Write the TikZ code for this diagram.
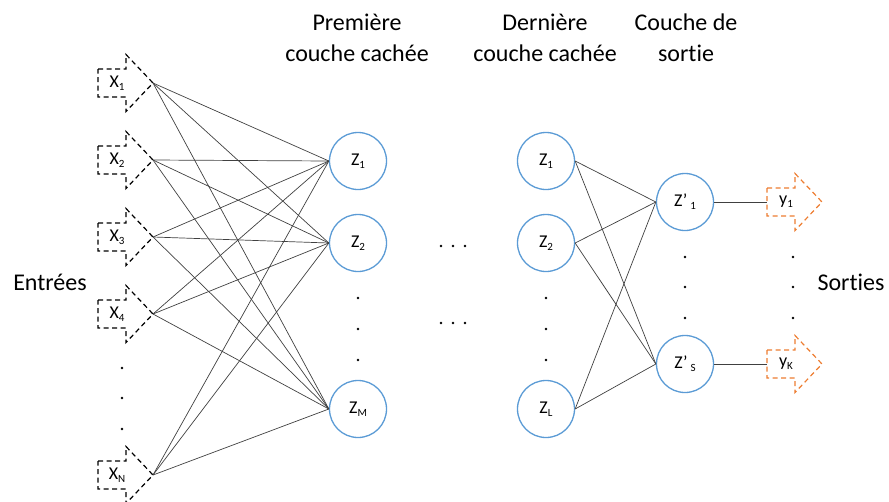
\documentclass[tikz,border=0pt]{standalone}
\usepackage{fontspec}
\setmainfont[RawFeature={-liga}]{Carlito}
\definecolor{nnblue}{HTML}{5B9BD5}
\definecolor{nnorange}{HTML}{ED7D31}
\definecolor{nnline}{HTML}{404040}
\newcommand{\lsub}[1]{\raisebox{-0.35ex}{\fontsize{11}{11}\selectfont #1}}
\newcommand{\nnarrow}[5]{%
  \begin{scope}[shift={(#2,#3)}]
    \draw[#4] (-55,-14) -- (-27,-14) -- (-27,-28.5) -- (0,0) -- (-27,28.5) -- (-27,14) -- (-55,14) -- cycle;
    \coordinate (#1) at (0,0);
    \node[lbl] (#1l) at (-36,0) {#5};
  \end{scope}}
\tikzset{
  neuron/.style={circle, draw=nnblue, line width=1.3pt, minimum size=57pt, inner sep=0pt, font=\fontsize{18}{18}\selectfont},
  wire/.style={draw=nnline, line width=0.7pt},
  inshape/.style={draw=black, line width=1.2pt, dash pattern=on 5pt off 3.5pt},
  outshape/.style={draw=nnorange, line width=1.2pt, dash pattern=on 5pt off 3.5pt},
  lbl/.style={font=\fontsize{18}{18}\selectfont, inner sep=0pt},
  ttl/.style={font=\fontsize{24}{31}\selectfont, align=center, inner sep=0pt},
  dotmark/.style={fill=black, circle, inner sep=0pt, minimum size=2.8pt}
}
\begin{document}
\begin{tikzpicture}[x=1pt, y=-1pt]
\useasboundingbox (0,0) rectangle (889,501);

% titles
\node[ttl] (t1) at (357,38) {Première\\couche cachée};
\node[ttl] (t2) at (545,38) {Dernière\\couche cachée};
\node[ttl] (t3) at (686,38) {Couche de\\sortie};
\node[ttl] (tin) at (50,282) {Entrées};
\node[ttl] (tout) at (851,282) {Sorties};

% inputs
\nnarrow{x1}{153}{83}{inshape}{X\lsub{1}}
\nnarrow{x2}{153}{160}{inshape}{X\lsub{2}}
\nnarrow{x3}{153}{237}{inshape}{X\lsub{3}}
\nnarrow{x4}{153}{314}{inshape}{X\lsub{4}}
\nnarrow{xn}{153}{475}{inshape}{X\lsub{N}}

% first hidden layer
\node[neuron] (a1) at (358,161) {Z\lsub{1}};
\node[neuron] (a2) at (358,243) {Z\lsub{2}};
\node[neuron] (am) at (358,409) {Z\lsub{M}};

% last hidden layer
\node[neuron] (b1) at (546,161) {Z\lsub{1}};
\node[neuron] (b2) at (546,243) {Z\lsub{2}};
\node[neuron] (bl) at (546,409) {Z\lsub{L}};

% output layer
\node[neuron] (c1) at (685,202) {Z’\,\lsub{1}};
\node[neuron] (cs) at (685,364) {Z’\,\lsub{S}};

% outputs
\nnarrow{y1}{822}{202}{outshape}{y\lsub{1}}
\nnarrow{yk}{822}{364}{outshape}{y\lsub{K}}

% connections input -> first hidden
\foreach \i in {x1,x2,x3,x4,xn}
  \foreach \j in {a1,a2,am}
    \draw[wire] (\i) -- (\j.west);

% last hidden -> output
\foreach \i in {b1,b2,bl}
  \foreach \j in {c1,cs}
    \draw[wire] (\i.east) -- (\j.west);

% output -> arrows
\draw[wire] (c1.east) -- (y1l.west -| 767,0);
\draw[wire] (cs.east) -- (ykl.west -| 767,0);

% dots
\foreach \yy in {368,398,429} \node[dotmark] (din\yy) at (122,\yy) {};
\foreach \yy in {298,329,360} {
  \node[dotmark] (da\yy) at (358,\yy) {};
  \node[dotmark] (db\yy) at (546,\yy) {};
}
\foreach \yy in {257,287,318} {
  \node[dotmark] (dc\yy) at (685,\yy) {};
  \node[dotmark] (dy\yy) at (793,\yy) {};
}
\foreach \xx in {441,453,465} {
  \node[dotmark] (dh\xx) at (\xx,246) {};
  \node[dotmark] (dl\xx) at (\xx,323) {};
}
\end{tikzpicture}
\end{document}
